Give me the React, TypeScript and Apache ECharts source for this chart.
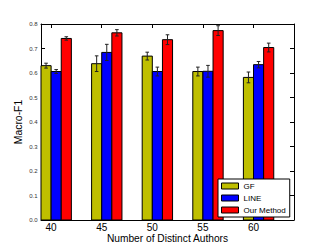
import React, { useEffect, useRef } from "react";
import * as echarts from "echarts";

const categories = ["40", "45", "50", "55", "60"];
const seriesNames = ["GF", "LINE", "Our Method"];
const gfValues = [0.63, 0.638, 0.669, 0.606, 0.582];
const gfErrors = [0.01, 0.032, 0.016, 0.018, 0.022];
const lineValues = [0.606, 0.684, 0.606, 0.607, 0.634];
const lineErrors = [0.008, 0.033, 0.018, 0.024, 0.013];
const ourValues = [0.741, 0.764, 0.736, 0.773, 0.704];
const ourErrors = [0.007, 0.013, 0.02, 0.02, 0.018];
const yTicks = [0, 0.1, 0.2, 0.3, 0.4, 0.5, 0.6, 0.7, 0.8];

const colors = ["#bfbf00", "#0000ff", "#ff0000"];
const BAR_W = 0.2;
const tickPos = categories.map((_, i) => i + BAR_W);
const FONT = "'Liberation Sans', Arial, sans-serif";

function makeSeries(name: string, values: number[], errors: number[], k: number, color: string) {
  return {
    type: "custom",
    name,
    xAxisIndex: 0,
    yAxisIndex: 0,
    itemStyle: { color, borderColor: "#000", borderWidth: 1 },
    encode: { x: 0, y: 1 },
    data: values.map((v, i) => [i, v, errors[i]]),
    renderItem: (params: any, api: any) => {
      const i = api.value(0);
      const v = api.value(1);
      const e = api.value(2);
      const x0 = i + k * BAR_W;
      const pTop = api.coord([x0, v]);
      const pBot = api.coord([x0 + BAR_W, 0]);
      const eHi = api.coord([x0 + BAR_W / 2, v + e]);
      const eLo = api.coord([x0 + BAR_W / 2, v - e]);
      const cap = 1.8;
      return {
        type: "group",
        children: [
          {
            type: "rect",
            shape: { x: pTop[0], y: pTop[1], width: pBot[0] - pTop[0], height: pBot[1] - pTop[1] },
            style: { fill: color, stroke: "#000", lineWidth: 1 },
          },
          {
            type: "line",
            shape: { x1: eHi[0], y1: eHi[1], x2: eLo[0], y2: eLo[1] },
            style: { stroke: "#222", lineWidth: 1 },
          },
          {
            type: "line",
            shape: { x1: eHi[0] - cap, y1: eHi[1], x2: eHi[0] + cap, y2: eHi[1] },
            style: { stroke: "#222", lineWidth: 1 },
          },
          {
            type: "line",
            shape: { x1: eLo[0] - cap, y1: eLo[1], x2: eLo[0] + cap, y2: eLo[1] },
            style: { stroke: "#222", lineWidth: 1 },
          },
        ],
      };
    },
  };
}

export default function App() {
  const ref = useRef<HTMLDivElement>(null);
  useEffect(() => {
    if (!ref.current) return;
    const chart = echarts.init(ref.current, null, { renderer: "svg" });
    const axisLine = { show: true, onZero: false, lineStyle: { color: "#000", width: 1 } };
    chart.setOption({
      animation: false,
      textStyle: { fontFamily: FONT },
      grid: { left: 41, top: 24, width: 253, height: 196, containLabel: false, outerBoundsMode: "none" },
      legend: {
        orient: "vertical",
        left: 218,
        top: 179,
        padding: [3, 4, 3, 3],
        itemWidth: 17,
        itemHeight: 6,
        itemGap: 4,
        icon: "rect",
        selectedMode: false,
        backgroundColor: "#fff",
        borderColor: "#000",
        borderWidth: 1,
        borderRadius: 0,
        textStyle: { fontSize: 8, color: "#000", fontFamily: FONT, padding: [0, 0, 0, 0] },
        data: seriesNames.map((n, k) => ({
          name: n,
          itemStyle: { color: colors[k], borderColor: "#000", borderWidth: 1 },
        })),
      },
      xAxis: [
        {
          type: "value",
          position: "bottom",
          min: 0,
          max: 5,
          axisLine,
          splitLine: { show: false },
          axisTick: { show: true, inside: true, length: 4, customValues: tickPos, lineStyle: { color: "#000" } },
          axisLabel: {
            customValues: tickPos,
            formatter: (v: number) => categories[Math.round(v - BAR_W)] ?? "",
            fontSize: 10,
            color: "#000",
            margin: 2,
            fontFamily: FONT,
          },
          name: "Number of Distinct Authors",
          nameLocation: "middle",
          nameGap: 13,
          nameMoveOverlap: false,
          nameTextStyle: { fontSize: 10.2, color: "#000", fontFamily: FONT },
        },
        {
          type: "value",
          position: "top",
          min: 0,
          max: 5,
          axisLine,
          splitLine: { show: false },
          axisTick: { show: true, inside: true, length: 4, customValues: tickPos, lineStyle: { color: "#000" } },
          axisLabel: { show: false },
        },
      ],
      yAxis: [
        {
          type: "value",
          position: "left",
          min: 0,
          max: 0.8,
          interval: 0.1,
          axisLine,
          splitLine: { show: false },
          axisTick: { show: true, inside: true, length: 4, customValues: yTicks, lineStyle: { color: "#000" } },
          axisLabel: {
            customValues: yTicks,
            formatter: (v: number) => v.toFixed(1),
            fontSize: 6,
            color: "#333",
            margin: 3.5,
            fontFamily: FONT,
          },
          name: "Macro-F1",
          nameLocation: "middle",
          nameGap: 18,
          nameMoveOverlap: false,
          nameTextStyle: { fontSize: 10.4, color: "#000", fontFamily: FONT },
        },
        {
          type: "value",
          position: "right",
          min: 0,
          max: 0.8,
          interval: 0.1,
          axisLine,
          splitLine: { show: false },
          axisTick: { show: true, inside: true, length: 4, lineStyle: { color: "#000" } },
          axisLabel: { show: false },
        },
      ],
      series: [
        makeSeries(seriesNames[0], gfValues, gfErrors, 0, colors[0]),
        makeSeries(seriesNames[1], lineValues, lineErrors, 1, colors[1]),
        makeSeries(seriesNames[2], ourValues, ourErrors, 2, colors[2]),
      ],
    });
    return () => chart.dispose();
  }, []);
  return (
    <div
      ref={ref}
      style={{ position: "fixed", left: 0, top: 0, width: 327, height: 245, background: "#fff" }}
    />
  );
}
